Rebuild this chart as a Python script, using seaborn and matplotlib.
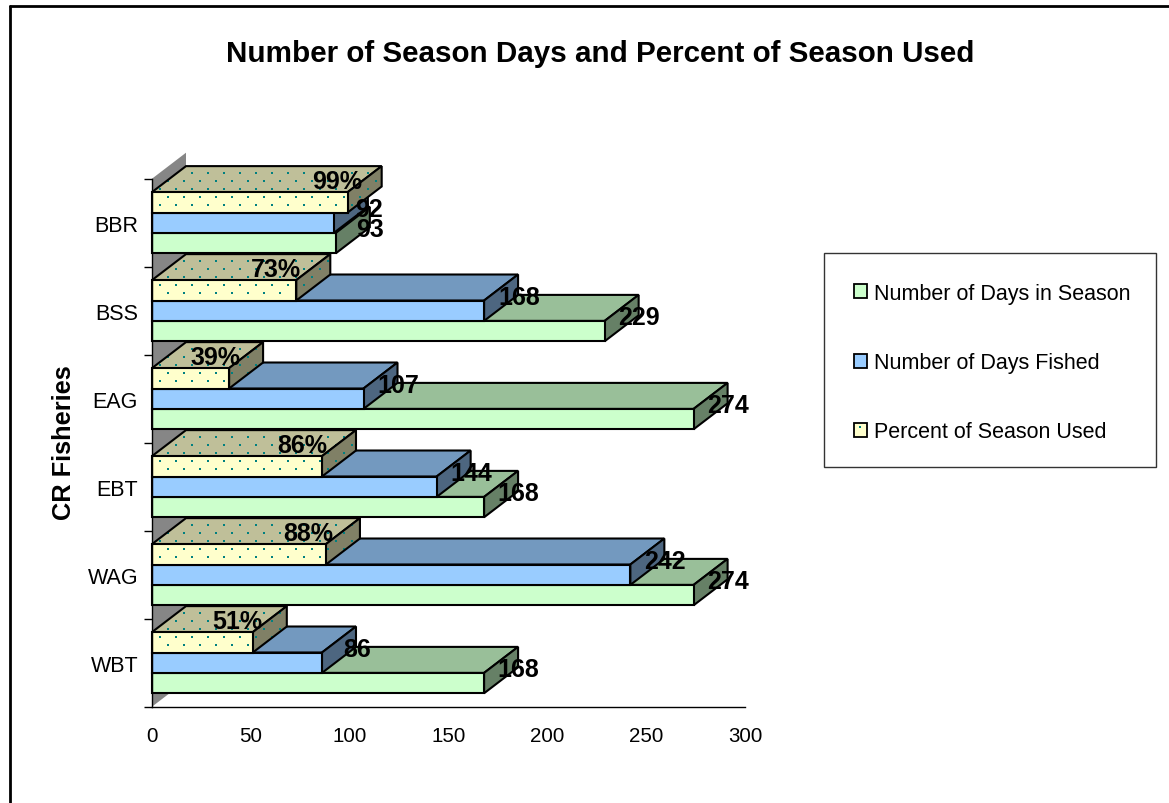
import numpy as np
import pandas as pd
import seaborn as sns
import matplotlib.pyplot as plt
from matplotlib.lines import Line2D
from matplotlib.patches import Patch, Polygon, Rectangle
from matplotlib.transforms import IdentityTransform

fisheries = ["BBR", "BSS", "EAG", "EBT", "WAG", "WBT"]
days_in_season = [93, 229, 274, 168, 274, 168]
days_fished = [92, 168, 107, 144, 242, 86]
percent_used = [99, 73, 39, 86, 88, 51]

SERIES_DAYS = "Number of Days in Season"
SERIES_FISHED = "Number of Days Fished"
SERIES_PERCENT = "Percent of Season Used"

# front, top and side colour of each series
colors = {
    SERIES_DAYS: ("#CCFFCC", "#99BF99", "#668066"),
    SERIES_FISHED: ("#99CCFF", "#7399BF", "#4D6680"),
    SERIES_PERCENT: ("#FFFFCC", "#BFBF99", "#808066"),
}

W, H = 1169, 804
LEFT, RIGHT, TOP, BOTTOM = 152, 745, 179.7, 707.7
DEPTH_X, DEPTH_Y = 34, 26
LW = 1.5
DOT = "#008080"

sns.set_theme(style="white")
plt.rcParams["font.family"] = ["Liberation Sans", "DejaVu Sans"]

df = pd.DataFrame(
    {
        "fishery": fisheries * 3,
        "series": [SERIES_DAYS] * 6 + [SERIES_FISHED] * 6 + [SERIES_PERCENT] * 6,
        "value": days_in_season + days_fished + percent_used,
    }
)

fig = plt.figure(figsize=(W / 100, H / 100), dpi=100, facecolor="white")
ax = fig.add_axes(
    [LEFT / W, 1 - BOTTOM / H, (RIGHT - LEFT) / W, (BOTTOM - TOP) / H], facecolor="none"
)

sns.barplot(
    data=df,
    y="fishery",
    x="value",
    hue="series",
    order=fisheries,
    hue_order=[SERIES_PERCENT, SERIES_FISHED, SERIES_DAYS],
    palette={k: v[0] for k, v in colors.items()},
    width=0.695,
    gap=0,
    edgecolor="black",
    linewidth=LW,
    saturation=1,
    legend=False,
    ax=ax,
)

ax.set_xlim(0, 300)
ax.set_ylim(len(fisheries) - 0.5, -0.5)

# pixel depth of the fake 3D look in data units
px_x = 300 / (RIGHT - LEFT)
px_y = len(fisheries) / (BOTTOM - TOP)
dx = DEPTH_X * px_x
dy = DEPTH_Y * px_y

# stipple pattern of the percent series, a fixed pixel grid over the whole chart
dot_rows = np.arange(-5, 70)
dot_cols = np.arange(-1, 40)
dot_x = np.array([168.3 + 8 * (k % 2) + 16 * n for k in dot_rows for n in dot_cols]) - 16
dot_y = H - np.array([197.7 + 8 * k for k in dot_rows for n in dot_cols])


def add_face(corners, color, z, dotted=False):
    poly = Polygon(corners, facecolor=color, edgecolor="none", lw=0, zorder=z, clip_on=False)
    ax.add_patch(poly)
    if dotted:
        dots = ax.scatter(
            dot_x, dot_y, s=2.2, marker="s", c=DOT, linewidths=0,
            transform=IdentityTransform(), zorder=z,
        )
        dots.set_clip_box(None)
        dots.set_clip_path(poly)
    ax.add_patch(
        Polygon(corners, fill=False, edgecolor="black", lw=LW, joinstyle="miter", zorder=z, clip_on=False)
    )


# grey back wall
wall = Polygon(
    [(0, 5.5), (dx, 5.5 - dy), (dx, -0.5 - dy), (0, -0.5)],
    facecolor="#868686",
    edgecolor="none",
    zorder=0.5,
    clip_on=False,
)
ax.add_patch(wall)

series_by_container = [SERIES_PERCENT, SERIES_FISHED, SERIES_DAYS]
label_y_shift = {SERIES_DAYS: -14, SERIES_FISHED: -14, SERIES_PERCENT: -21}
label_x_shift = {SERIES_DAYS: 34, SERIES_FISHED: 35, SERIES_PERCENT: -17}
percent_nudge = {"BBR": 6, "BSS": -3, "EAG": 3, "EBT": -3, "WAG": -1, "WBT": 2}

# painter's order: bottom group first, and inside a group from green up to yellow
z = 2.0
for cat in range(len(fisheries) - 1, -1, -1):
    for s in range(2, -1, -1):
        name = series_by_container[s]
        bar = ax.containers[s][cat]
        front, top, side = colors[name]
        dotted = name == SERIES_PERCENT
        x1 = bar.get_width()
        y0 = bar.get_y()
        y1 = y0 + bar.get_height()
        bar.set_visible(False)
        add_face([(0, y0), (dx, y0 - dy), (x1 + dx, y0 - dy), (x1, y0)], top, z, dotted)
        add_face([(x1, y0), (x1 + dx, y0 - dy), (x1 + dx, y1 - dy), (x1, y1)], side, z, dotted)
        add_face([(0, y0), (x1, y0), (x1, y1), (0, y1)], front, z, dotted)
        z += 0.1

        shift_x = label_x_shift[name]
        text = f"{x1:.0f}"
        if dotted:
            text += "%"
            shift_x += percent_nudge[fisheries[cat]]
        ax.text(
            x1 + shift_x * px_x,
            (y0 + y1) / 2 + label_y_shift[name] * px_y,
            text,
            ha="center",
            va="center",
            fontsize=18,
            fontweight="bold",
            color="black",
            zorder=50,
        )

# axes
for side_name in ["top", "right"]:
    ax.spines[side_name].set_visible(False)
for side_name in ["left", "bottom"]:
    ax.spines[side_name].set_color("black")
    ax.spines[side_name].set_linewidth(1.0)
    ax.spines[side_name].set_zorder(40)

ax.set_xticks(range(0, 301, 50))
ax.tick_params(axis="x", which="major", length=5.8, width=1, color="black", pad=8,
               labelsize=14.8, labelcolor="black")
ax.set_yticks(range(len(fisheries)))
ax.set_yticklabels(fisheries)
ax.tick_params(axis="y", which="major", length=0, pad=10, labelsize=15.5, labelcolor="black")
ax.set_yticks([i - 0.5 for i in range(len(fisheries) + 1)], minor=True)
ax.tick_params(axis="y", which="minor", length=5.8, width=1, color="black", left=True)
ax.set_xlabel("")
ax.set_ylabel("")

fig.text(600 / W, 1 - 54 / H, "Number of Season Days and Percent of Season Used",
         ha="center", va="center", fontsize=21.3, fontweight="bold", color="black")
fig.text(64 / W, 1 - 443 / H, "CR Fisheries", rotation=90,
         ha="center", va="center", fontsize=18.3, fontweight="bold", color="black")

# outer chart border, only left and top fall inside the picture
fig.add_artist(Line2D([10 / W, 10 / W], [0, 1 - 7 / H], color="black", lw=2, transform=fig.transFigure))
fig.add_artist(Line2D([10 / W, 1], [1 - 7 / H, 1 - 7 / H], color="black", lw=2, transform=fig.transFigure))

# legend box
fig.add_artist(
    Rectangle(
        (824 / W, 1 - 468 / H), (1156 - 824) / W, (468 - 254) / H,
        facecolor="white", edgecolor="#333333", lw=1, transform=fig.transFigure,
    )
)
handles = [
    Patch(facecolor=colors[SERIES_DAYS][0], edgecolor="black", lw=1.3, label=SERIES_DAYS),
    Patch(facecolor=colors[SERIES_FISHED][0], edgecolor="black", lw=1.3, label=SERIES_FISHED),
    Patch(facecolor=colors[SERIES_PERCENT][0], edgecolor="black", lw=1.3, label=SERIES_PERCENT),
]
leg = fig.legend(
    handles=handles,
    loc="upper left",
    bbox_to_anchor=(854 / W, 1 - 284 / H),
    frameon=False,
    fontsize=15.5,
    labelcolor="black",
    handlelength=0.62,
    handleheight=0.62,
    handletextpad=0.33,
    labelspacing=2.24,
    borderpad=0,
    borderaxespad=0,
)
# single stipple dot on the percent key
fig.add_artist(
    Line2D([860 / W], [1 - 428 / H], marker="s", markersize=1.6, color=DOT, lw=0,
           markeredgewidth=0, transform=fig.transFigure, zorder=10)
)

fig.savefig("out.png", dpi=100)
plt.close(fig)
